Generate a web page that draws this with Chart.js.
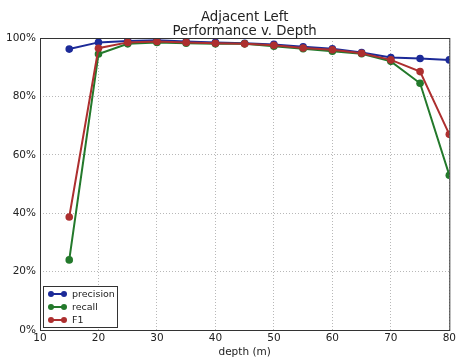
<!DOCTYPE html>
<html>
<head>
<meta charset="utf-8">
<script src="https://cdn.jsdelivr.net/npm/chart.js@4"></script>
<style>
  html, body { margin: 0; padding: 0; background: #fff; }
  #wrap { width: 458px; height: 359px; position: relative; }
</style>
</head>
<body>
<div id="wrap"><canvas id="chart"></canvas></div>
<script>
var depths = [15, 20, 25, 30, 35, 40, 45, 50, 55, 60, 65, 70, 75, 80];
var precision = [96.2, 98.5, 99.0, 99.2, 98.8, 98.5, 98.2, 97.8, 97.0, 96.3, 95.0, 93.3, 93.0, 92.5];
var recall = [24.0, 94.5, 98.0, 98.5, 98.2, 98.0, 98.0, 97.2, 96.3, 95.5, 94.6, 92.0, 84.5, 53.0];
var f1 = [38.7, 96.5, 98.5, 98.8, 98.5, 98.2, 98.0, 97.5, 96.6, 96.0, 94.8, 92.5, 88.5, 67.0];
var xTicks = [10, 20, 30, 40, 50, 60, 70, 80];
var yTicks = [0, 20, 40, 60, 80, 100];
var titleLines = ['Adjacent Left', 'Performance v. Depth'];

var FONT = '"DejaVu Sans", sans-serif';

function points(values) {
  return depths.map(function (d, i) { return { x: d, y: values[i] }; });
}

function series(label, values, color, order) {
  return {
    label: label,
    data: points(values),
    borderColor: color,
    backgroundColor: color,
    pointBackgroundColor: color,
    pointBorderColor: color,
    pointBorderWidth: 0,
    pointRadius: 3.8,
    borderWidth: 2,
    tension: 0,
    order: order
  };
}

var framePlugin = {
  id: 'frame',
  afterDraw: function (chart) {
    var ctx = chart.ctx;
    var a = chart.chartArea;
    ctx.save();
    ctx.strokeStyle = '#333';
    ctx.lineWidth = 1;
    ctx.strokeRect(a.left + 0.5, a.top + 0.5, a.right - a.left, a.bottom - a.top);

    // title
    ctx.fillStyle = '#222';
    ctx.font = '13.3px ' + FONT;
    ctx.textAlign = 'center';
    ctx.textBaseline = 'alphabetic';
    var cx = (a.left + a.right) / 2;
    ctx.fillText(titleLines[0], cx, 21);
    ctx.fillText(titleLines[1], cx, 35);

    // legend inside lower-left
    var bx = a.left + 3, by = a.bottom - 44, bw = 74, bh = 41;
    ctx.fillStyle = '#fff';
    ctx.fillRect(bx, by, bw, bh);
    ctx.strokeStyle = '#333';
    ctx.strokeRect(bx + 0.5, by + 0.5, bw, bh);
    ctx.font = '9.5px ' + FONT;
    ctx.textAlign = 'left';
    ctx.textBaseline = 'middle';
    chart.data.datasets.forEach(function (ds, i) {
      var y = by + 8 + i * 13;
      ctx.strokeStyle = ds.borderColor;
      ctx.fillStyle = ds.borderColor;
      ctx.lineWidth = 2;
      ctx.beginPath();
      ctx.moveTo(bx + 8, y);
      ctx.lineTo(bx + 21, y);
      ctx.stroke();
      [bx + 8, bx + 21].forEach(function (px) {
        ctx.beginPath();
        ctx.arc(px, y, 3, 0, Math.PI * 2);
        ctx.fill();
      });
      ctx.fillStyle = '#222';
      ctx.fillText(ds.label, bx + 29, y + 0.5);
    });
    ctx.restore();
  }
};

var gridStyle = {
  color: '#b8b8b8',
  lineWidth: 1,
  tickLength: 0,
  drawTicks: false
};

new Chart(document.getElementById('chart').getContext('2d'), {
  type: 'line',
  data: {
    datasets: [
      series('precision', precision, '#1c2a98', 3),
      series('recall', recall, '#23792b', 2),
      series('F1', f1, '#ad2f2f', 1)
    ]
  },
  options: {
    responsive: true,
    maintainAspectRatio: false,
    animation: false,
    layout: { padding: { top: 38, right: 5, left: 0, bottom: 0 } },
    plugins: {
      legend: { display: false },
      tooltip: { enabled: false }
    },
    scales: {
      x: {
        type: 'linear',
        min: 10,
        max: 80,
        afterBuildTicks: function (scale) {
          scale.ticks = xTicks.map(function (v) { return { value: v }; });
        },
        grid: Object.assign({}, gridStyle),
        border: { display: false, dash: [1, 2] },
        ticks: {
          color: '#222',
          font: { family: FONT, size: 10.5 },
          padding: 2,
          maxRotation: 0
        },
        title: {
          display: true,
          text: 'depth (m)',
          color: '#222',
          font: { family: FONT, size: 10.5 },
          padding: { top: 0, bottom: 0 }
        },
        afterFit: function (scale) { scale.height = 29; }
      },
      y: {
        min: 0,
        max: 100,
        afterBuildTicks: function (scale) {
          scale.ticks = yTicks.map(function (v) { return { value: v }; });
        },
        grid: Object.assign({}, gridStyle),
        border: { display: false, dash: [1, 2] },
        ticks: {
          color: '#222',
          font: { family: FONT, size: 10.5 },
          padding: 4,
          callback: function (v) { return v + '%'; }
        },
        afterFit: function (scale) { scale.width = 40; }
      }
    }
  },
  plugins: [framePlugin]
});
</script>
</body>
</html>
